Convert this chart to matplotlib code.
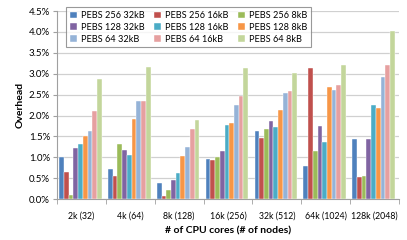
import numpy as np
import matplotlib.pyplot as plt
from matplotlib.ticker import FuncFormatter

plt.rcParams['font.family'] = ['Lato', 'DejaVu Sans']

groups = ['2k (32)', '4k (64)', '8k (128)', '16k (256)', '32k (512)', '64k (1024)', '128k (2048)']
series = ['PEBS 256 32kB', 'PEBS 256 16kB', 'PEBS 256 8kB',
          'PEBS 128 32kB', 'PEBS 128 16kB', 'PEBS 128 8kB',
          'PEBS 64 32kB', 'PEBS 64 16kB', 'PEBS 64 8kB']
colors = ['#4F81BD', '#C0504D', '#9BBB59', '#8064A2', '#4BACC6', '#F79646',
          '#95B3D7', '#E6A0A0', '#C3D69B']

# overhead in %, one list per series, one value per group
p256_32 = [1.02, 0.72, 0.38, 0.96, 1.62, 0.80, 1.43]
p256_16 = [0.65, 0.56, 0.08, 0.94, 1.46, 3.13, 0.53]
p256_8 = [0.10, 1.32, 0.22, 1.02, 1.68, 1.16, 0.56]
p128_32 = [1.22, 1.17, 0.46, 1.16, 1.88, 1.74, 1.43]
p128_16 = [1.33, 1.06, 0.62, 1.77, 1.72, 1.36, 2.26]
p128_8 = [1.50, 1.92, 1.04, 1.83, 2.14, 2.68, 2.19]
p64_32 = [1.63, 2.35, 1.24, 2.26, 2.54, 2.61, 2.92]
p64_16 = [2.10, 2.35, 1.68, 2.46, 2.59, 2.73, 3.20]
p64_8 = [2.88, 3.17, 1.90, 3.13, 3.03, 3.21, 4.03]
values = [p256_32, p256_16, p256_8, p128_32, p128_16, p128_8, p64_32, p64_16, p64_8]

fig = plt.figure(figsize=(4.07, 2.4), dpi=100)
ax = fig.add_axes([0.14, 0.17, 0.84, 0.784])

x = np.arange(len(groups))
n = len(series)
w = 0.87 / n
handles = []
for i, (name, vals) in enumerate(zip(series, values)):
    b = ax.bar(x - 0.435 + w * (i + 0.5) - 0.02, vals, width=w, color=colors[i],
               edgecolor='white', linewidth=0.3, label=name, zorder=3)
    handles.append(b)

ax.set_xlim(-0.5, len(groups) - 0.5)
ax.set_ylim(0, 4.5)
ax.set_yticks(np.arange(0, 4.51, 0.5))
ax.yaxis.set_major_formatter(FuncFormatter(lambda v, p: f'{v:.1f}%'))
ax.grid(axis='y', color='#d0d0d0', linewidth=0.9, zorder=0)
for s in ['top', 'right']:
    ax.spines[s].set_visible(False)
for s in ['left', 'bottom']:
    ax.spines[s].set_color('#a0a0a0')
    ax.spines[s].set_linewidth(0.8)

ax.set_xticks(x)
ax.set_xticklabels(groups, fontsize=6.3)
ax.set_xticks(np.arange(-0.5, len(groups), 1), minor=True)
ax.tick_params(axis='x', which='major', length=0, pad=9)
ax.tick_params(axis='x', which='minor', length=3.5, color='#a0a0a0')
ax.tick_params(axis='y', length=3, color='#a0a0a0', labelsize=7, pad=2)

ax.set_ylabel('Overhead', fontsize=7.5, fontweight='bold', labelpad=3)
ax.set_xlabel('# of CPU cores (# of nodes)', fontsize=7.5, fontweight='bold', labelpad=4)

# legend is filled column-wise, so reorder to get row-wise layout
order = [0, 3, 6, 1, 4, 7, 2, 5, 8]
leg = fig.legend([handles[i] for i in order], [series[i] for i in order],
                 ncol=3, loc='upper left', bbox_to_anchor=(0.152, 0.988),
                 fontsize=6.6, frameon=True, fancybox=False, edgecolor='#808080',
                 handlelength=0.7, handleheight=0.7, handletextpad=0.45,
                 columnspacing=1.1, labelspacing=0.3, borderpad=0.4)
leg.get_frame().set_linewidth(0.8)

fig.savefig('out.png', dpi=100)
